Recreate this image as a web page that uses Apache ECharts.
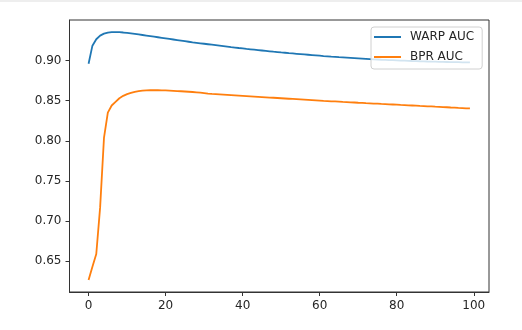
<!DOCTYPE html>
<html>
<head>
<meta charset="utf-8">
<script src="https://cdn.jsdelivr.net/npm/echarts@6/dist/echarts.min.js"></script>
<style>
  html, body { margin: 0; padding: 0; background: #fff; }
  #chart { width: 522px; height: 330px; }
</style>
</head>
<body>
<div id="chart"></div>
<script>
// Epoch index and AUC per epoch for the two models
const epochs = Array.from({ length: 100 }, (_, i) => i);

const warpAuc = [
  0.8960, 0.9185, 0.9265, 0.9310, 0.9335, 0.9348, 0.9354, 0.9355, 0.9353, 0.9349,
  0.9344, 0.9338, 0.9332, 0.9325, 0.9318, 0.9311, 0.9304, 0.9297, 0.9290, 0.9283,
  0.9276, 0.9269, 0.9262, 0.9255, 0.9248, 0.9241, 0.9234, 0.9227, 0.9221, 0.9215,
  0.9209, 0.9203, 0.9197, 0.9191, 0.9185, 0.9179, 0.9173, 0.9167, 0.9162, 0.9156,
  0.9151, 0.9145, 0.9140, 0.9135, 0.9130, 0.9125, 0.9120, 0.9115, 0.9110, 0.9106,
  0.9101, 0.9097, 0.9092, 0.9088, 0.9084, 0.9080, 0.9076, 0.9072, 0.9068, 0.9064,
  0.9060, 0.9056, 0.9053, 0.9049, 0.9046, 0.9042, 0.9039, 0.9036, 0.9033, 0.9030,
  0.9027, 0.9024, 0.9021, 0.9018, 0.9015, 0.9013, 0.9010, 0.9008, 0.9006, 0.9004,
  0.9002, 0.9000, 0.8998, 0.8996, 0.8994, 0.8993, 0.8991, 0.8990, 0.8988, 0.8987,
  0.8986, 0.8984, 0.8983, 0.8982, 0.8981, 0.8980, 0.8979, 0.8978, 0.8977, 0.8976
];

const bprAuc = [
  0.6265, 0.6430, 0.6590, 0.7170, 0.8035, 0.8350, 0.8440, 0.8485, 0.8530, 0.8560,
  0.8582, 0.8598, 0.8610, 0.8618, 0.8624, 0.8628, 0.8630, 0.8631, 0.8630, 0.8629,
  0.8627, 0.8625, 0.8623, 0.8620, 0.8617, 0.8614, 0.8611, 0.8608, 0.8604, 0.8600,
  0.8594, 0.8588, 0.8584, 0.8581, 0.8578, 0.8575, 0.8572, 0.8569, 0.8566, 0.8563,
  0.8560, 0.8557, 0.8554, 0.8551, 0.8548, 0.8545, 0.8542, 0.8539, 0.8536, 0.8533,
  0.8530, 0.8527, 0.8524, 0.8521, 0.8518, 0.8515, 0.8512, 0.8509, 0.8506, 0.8503,
  0.8500, 0.8497, 0.8495, 0.8492, 0.8490, 0.8487, 0.8484, 0.8482, 0.8479, 0.8477,
  0.8474, 0.8472, 0.8469, 0.8467, 0.8464, 0.8462, 0.8459, 0.8457, 0.8454, 0.8452,
  0.8450, 0.8447, 0.8445, 0.8442, 0.8440, 0.8438, 0.8435, 0.8433, 0.8430, 0.8428,
  0.8425, 0.8423, 0.8420, 0.8418, 0.8415, 0.8413, 0.8410, 0.8408, 0.8405, 0.8403
];

const xTicks = [0, 20, 40, 60, 80, 100];
const yTicks = [0.65, 0.70, 0.75, 0.80, 0.85, 0.90];

const FONT = 'DejaVu Sans';
const TEXT = '#262626';

const chart = echarts.init(document.getElementById('chart'), null, { renderer: 'canvas' });

chart.setOption({
  animation: false,
  backgroundColor: '#ffffff',
  textStyle: { fontFamily: FONT },
  graphic: [
    { type: 'rect', shape: { x: 0, y: 0, width: 522, height: 2 }, style: { fill: '#eeeeee' }, silent: true }
  ],
  grid: {
    left: 69.5, right: 33, top: 20, bottom: 38,
    show: true, borderColor: '#333333', borderWidth: 1, backgroundColor: 'transparent'
  },
  legend: {
    orient: 'vertical',
    left: 371, top: 27,
    padding: [3, 8, 5, 3],
    icon: 'rect',
    itemWidth: 27, itemHeight: 2, itemGap: 6,
    backgroundColor: 'rgba(255,255,255,0.8)',
    borderColor: '#d0d0d0', borderWidth: 1, borderRadius: 3,
    textStyle: {
      fontFamily: FONT, fontSize: 12, color: TEXT,
      padding: [0, 0, 0, 4], lineHeight: 14
    },
    data: ['WARP AUC', 'BPR AUC']
  },
  xAxis: {
    type: 'value',
    min: -4.95, max: 103.95,
    splitLine: { show: false },
    axisLine: { show: true, onZero: false, lineStyle: { color: '#333333', width: 1 } },
    axisTick: { show: true, inside: false, length: 4, customValues: xTicks, lineStyle: { color: '#333333' } },
    axisLabel: {
      customValues: xTicks, margin: 8,
      fontFamily: FONT, fontSize: 12, color: TEXT,
      formatter: v => String(v)
    }
  },
  yAxis: {
    type: 'value',
    min: 0.6116, max: 0.9505,
    splitLine: { show: false },
    axisLine: { show: true, onZero: false, lineStyle: { color: '#333333', width: 1 } },
    axisTick: { show: true, inside: false, length: 4, customValues: yTicks, lineStyle: { color: '#333333' } },
    axisLabel: {
      customValues: yTicks, margin: 8,
      fontFamily: FONT, fontSize: 12, color: TEXT,
      formatter: v => v.toFixed(2)
    }
  },
  series: [
    {
      name: 'WARP AUC', type: 'line',
      data: epochs.map((e, i) => [e, warpAuc[i]]),
      showSymbol: false, symbol: 'none',
      lineStyle: { color: '#1f77b4', width: 1.8 },
      itemStyle: { color: '#1f77b4' }
    },
    {
      name: 'BPR AUC', type: 'line',
      data: epochs.map((e, i) => [e, bprAuc[i]]),
      showSymbol: false, symbol: 'none',
      lineStyle: { color: '#ff7f0e', width: 1.8 },
      itemStyle: { color: '#ff7f0e' }
    }
  ]
});
</script>
</body>
</html>
